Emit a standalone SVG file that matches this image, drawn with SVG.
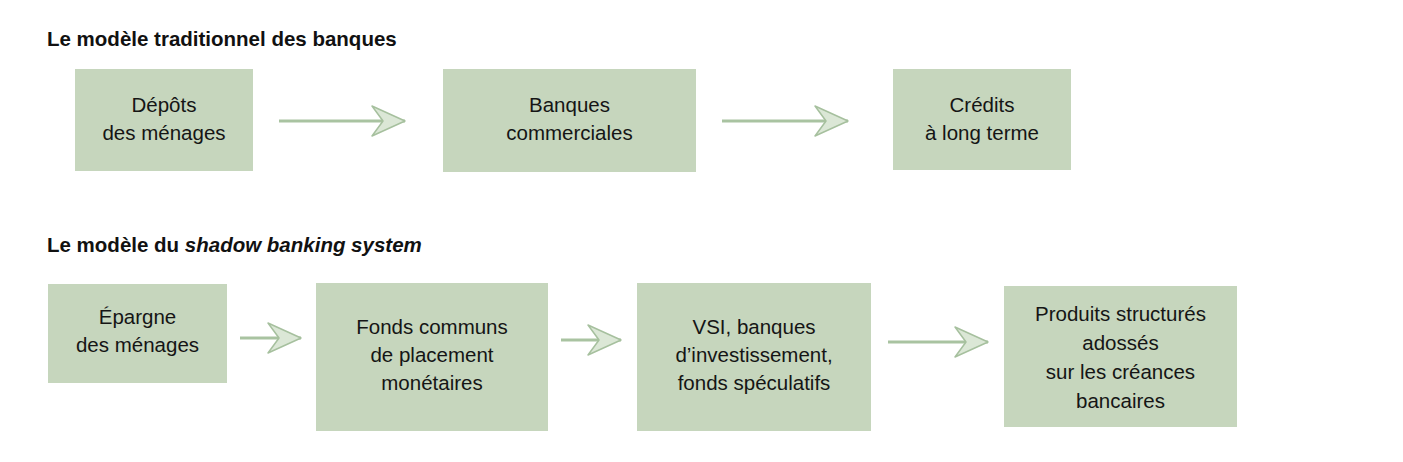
<svg xmlns="http://www.w3.org/2000/svg" width="1403" height="462" viewBox="0 0 1403 462">
<style>
  .title { font-family: "Liberation Sans", Arial, sans-serif; font-weight: bold; font-size: 20.5px; fill: #111; }
  .box { fill: #c6d6bd; }
  .lbl { font-family: "Liberation Sans", Arial, sans-serif; font-size: 20.5px; fill: #151515; text-anchor: middle; }
  .arrow { stroke: #a9c3a1; stroke-width: 3; fill: none; marker-end: url(#head); }
</style>
<defs>
  <marker id="head" markerUnits="userSpaceOnUse" markerWidth="40" markerHeight="36" refX="35" refY="17" orient="auto">
    <path d="M2,2 L35,17 L2,32 L13,17 Z" fill="#dbe7d6" stroke="#a6c09e" stroke-width="1.5" stroke-linejoin="round"/>
  </marker>
</defs>
<rect width="1403" height="462" fill="#ffffff"/>

<text id="title1" class="title" x="47" y="46">Le modèle traditionnel des banques</text>
<text id="title2" class="title" x="47" y="252">Le modèle du <tspan font-style="italic">shadow banking system</tspan></text>

<g id="connectors">
  <line class="arrow" x1="279" y1="121" x2="405" y2="121"/>
  <line class="arrow" x1="722" y1="121" x2="848" y2="121"/>
  <line class="arrow" x1="240" y1="338" x2="301" y2="338"/>
  <line class="arrow" x1="561" y1="340" x2="621" y2="340"/>
  <line class="arrow" x1="888" y1="342" x2="988" y2="342"/>
</g>

<g id="depots">
  <rect class="box" x="75" y="69" width="178" height="102"/>
  <text class="lbl" x="164" y="112">Dépôts</text>
  <text class="lbl" x="164" y="140">des ménages</text>
</g>
<g id="banques">
  <rect class="box" x="443" y="69" width="253" height="103"/>
  <text class="lbl" x="569.5" y="112">Banques</text>
  <text class="lbl" x="569.5" y="140">commerciales</text>
</g>
<g id="credits">
  <rect class="box" x="893" y="69" width="178" height="101"/>
  <text class="lbl" x="982" y="112">Crédits</text>
  <text class="lbl" x="982" y="140">à long terme</text>
</g>

<g id="epargne">
  <rect class="box" x="48" y="284" width="179" height="99"/>
  <text class="lbl" x="137.5" y="324">Épargne</text>
  <text class="lbl" x="137.5" y="352">des ménages</text>
</g>
<g id="fonds">
  <rect class="box" x="316" y="283" width="232" height="148"/>
  <text class="lbl" x="432" y="334">Fonds communs</text>
  <text class="lbl" x="432" y="362">de placement</text>
  <text class="lbl" x="432" y="390">monétaires</text>
</g>
<g id="vsi">
  <rect class="box" x="637" y="283" width="234" height="148"/>
  <text class="lbl" x="754" y="334">VSI, banques</text>
  <text class="lbl" x="754" y="362">d’investissement,</text>
  <text class="lbl" x="754" y="390">fonds spéculatifs</text>
</g>
<g id="produits">
  <rect class="box" x="1004" y="286" width="233" height="141"/>
  <text class="lbl" x="1120.5" y="321">Produits structurés</text>
  <text class="lbl" x="1120.5" y="350">adossés</text>
  <text class="lbl" x="1120.5" y="379">sur les créances</text>
  <text class="lbl" x="1120.5" y="408">bancaires</text>
</g>
</svg>
